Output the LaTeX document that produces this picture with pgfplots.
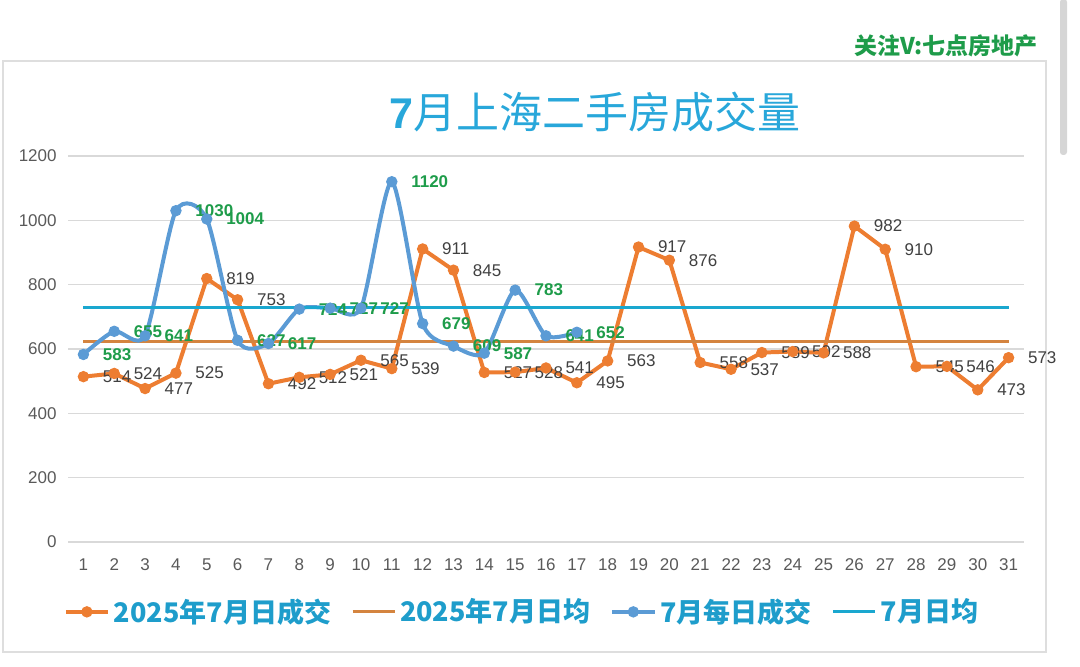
\documentclass[border=0pt]{standalone}
\usepackage{pgfplots}
\pgfplotsset{compat=1.18}
\usepackage{fontspec}
\setmainfont{Liberation Sans}
\newfontfamily\cjk{Noto Sans CJK SC}
\definecolor{cOr}{HTML}{ED7D31}
\definecolor{cOrAvg}{HTML}{D4843F}
\definecolor{cBl}{HTML}{5B9BD5}
\definecolor{cCy}{HTML}{1AA7CF}
\definecolor{cGr}{HTML}{1E9C4A}
\definecolor{cTitle}{HTML}{28A7DA}
\definecolor{cLeg}{HTML}{1E9DCB}
\definecolor{cTick}{HTML}{595959}
\definecolor{cLab}{HTML}{404040}
\definecolor{cGrid}{HTML}{D9D9D9}
\begin{document}
\begin{tikzpicture}
\useasboundingbox (0pt,0pt) rectangle (540pt,333.5pt);
\draw[line width=0.6pt, color=black!13] (1.5pt,303pt) rectangle (523pt,7.5pt);
\fill[black!16, rounded corners=1.5pt] (530pt,334pt) rectangle (533.5pt,256pt);
\node[font=\cjk\bfseries\fontsize{11.5}{12}\selectfont, text=cGr] at (473pt,310.5pt) {关注V:七点房地产};
\node[text=cTitle, font=\fontsize{21.5}{24}\selectfont] at (297.5pt,277.5pt) {{\bfseries 7}{\cjk 月上海二手房成交量}};
\begin{axis}[
  at={(34pt,62.5pt)}, anchor=south west,
  scale only axis, width=478pt, height=193pt,
  xmin=0.5, xmax=31.5, ymin=0, ymax=1200,
  xtick={1,...,31}, ytick={0,200,...,1200},
  axis line style={draw=none}, tick style={draw=none},
  ymajorgrids, grid style={cGrid, line width=0.75pt},
  /pgf/number format/1000 sep={},
  /pgf/number format/assume math mode=true,
  ticklabel style={font=\fontsize{8.5}{10}\selectfont, text=cTick},
  xticklabel style={anchor=north, inner sep=0pt, yshift=-8pt},
  yticklabel style={anchor=east, inner sep=0pt, xshift=-5.5pt},
  clip=false,
  legend columns=4,
  legend style={at={(0.476,-0.181)}, anchor=center, draw=none, fill=none,
    font=\cjk\bfseries\fontsize{13.5}{15}\selectfont, text=cLeg,
    /tikz/every even column/.append style={column sep=8pt}},
  legend image code/.code={\draw[mark repeat=2,mark phase=2,#1] plot coordinates {(0pt,0pt) (10.5pt,0pt) (21pt,0pt)};},
]
% 2025 July daily
\addplot[cOr, line width=2pt, mark=*, mark size=2.6pt, mark options={fill=cOr, draw=cOr, line width=0.5pt},
  nodes near coords, every node near coord/.append style={anchor=west, inner sep=0pt, xshift=9.5pt,
    font=\fontsize{8.5}{10}\selectfont, text=cLab}]
coordinates {
(1,514) (2,524) (3,477) (4,525) (5,819) (6,753) (7,492) (8,512) (9,521) (10,565)
(11,539) (12,911) (13,845) (14,527) (15,528) (16,541) (17,495) (18,563) (19,917) (20,876)
(21,558) (22,537) (23,589) (24,592) (25,588) (26,982) (27,910) (28,545) (29,546) (30,473) (31,573)
};
\addlegendentry{2025年7月日成交}
\addplot[cOrAvg, line width=1.5pt] coordinates {(1,624) (31,624)};
\addlegendentry{2025年7月日均}
% July daily (blue)
\addplot[cBl, line width=2pt, smooth, tension=0.42, mark=*, mark size=2.6pt, mark options={fill=cBl, draw=cBl, line width=0.5pt},
  nodes near coords, every node near coord/.append style={anchor=west, inner sep=0pt, xshift=9.5pt,
    font=\bfseries\fontsize{8.5}{10}\selectfont, text=cGr}]
coordinates {
(1,583) (2,655) (3,641) (4,1030) (5,1004) (6,627) (7,617) (8,724) (9,727) (10,727)
(11,1120) (12,679) (13,609) (14,587) (15,783) (16,641) (17,652)
};
\addlegendentry{7月每日成交}
\addplot[cCy, line width=1.5pt] coordinates {(1,730) (31,730)};
\addlegendentry{7月日均}
\end{axis}
\end{tikzpicture}
\end{document}
